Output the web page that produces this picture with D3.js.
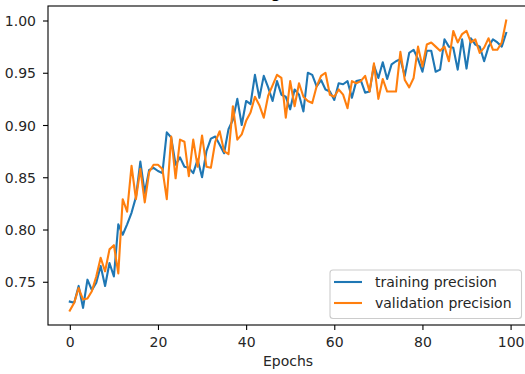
<!DOCTYPE html>
<html>
<head>
<meta charset="utf-8">
<script src="https://d3js.org/d3.v7.min.js"></script>
<style>
  body { margin: 0; background: white; }
  text { font-family: "DejaVu Sans", sans-serif; }
</style>
</head>
<body>
<div id="chart"></div>
<script>
//Data

var epochs = d3.range(100);

var training = [
  0.731, 0.730, 0.746, 0.725, 0.752, 0.742, 0.749, 0.765, 0.746, 0.768,
  0.755, 0.805, 0.795, 0.805, 0.816, 0.831, 0.865, 0.835, 0.857, 0.859,
  0.856, 0.854, 0.893, 0.888, 0.862, 0.869, 0.860, 0.859, 0.854, 0.867,
  0.850, 0.875, 0.887, 0.889, 0.881, 0.873, 0.896, 0.905, 0.925, 0.900,
  0.923, 0.920, 0.948, 0.926, 0.947, 0.936, 0.923, 0.942, 0.929, 0.927,
  0.915, 0.934, 0.929, 0.913, 0.950, 0.948, 0.937, 0.943, 0.934, 0.932,
  0.924, 0.940, 0.939, 0.942, 0.926, 0.942, 0.943, 0.931, 0.932, 0.957,
  0.945, 0.960, 0.944, 0.958, 0.961, 0.963, 0.947, 0.969, 0.972, 0.963,
  0.951, 0.971, 0.971, 0.951, 0.953, 0.982, 0.975, 0.974, 0.953, 0.982,
  0.954, 0.983, 0.977, 0.975, 0.961, 0.975, 0.982, 0.979, 0.975, 0.988
];

var validation = [
  0.7225, 0.730, 0.744, 0.733, 0.734, 0.741, 0.755, 0.773, 0.760, 0.781,
  0.785, 0.758, 0.829, 0.817, 0.861, 0.829, 0.858, 0.826, 0.855, 0.862,
  0.862, 0.858, 0.829, 0.889, 0.849, 0.886, 0.884, 0.851, 0.886, 0.860,
  0.890, 0.860, 0.859, 0.884, 0.894, 0.875, 0.872, 0.918, 0.886, 0.891,
  0.904, 0.912, 0.927, 0.919, 0.907, 0.928, 0.938, 0.948, 0.945, 0.907,
  0.942, 0.918, 0.940, 0.927, 0.923, 0.921, 0.937, 0.947, 0.950, 0.929,
  0.927, 0.934, 0.929, 0.916, 0.942, 0.940, 0.942, 0.947, 0.932, 0.959,
  0.925, 0.944, 0.932, 0.932, 0.932, 0.970, 0.943, 0.936, 0.945, 0.975,
  0.956, 0.977, 0.979, 0.975, 0.971, 0.975, 0.961, 0.990, 0.979, 0.987,
  0.990, 0.979, 0.982, 0.969, 0.974, 0.983, 0.972, 0.972, 0.979, 1.000
];

var xTicks = [0, 20, 40, 60, 80, 100];
var yTicks = [0.75, 0.80, 0.85, 0.90, 0.95, 1.00];
var seriesNames = ["training precision", "validation precision"];
var colors = ["#1f77b4", "#ff7f0e"];

//Base svg

var width = 525, height = 374;
var plotLeft = 48, plotRight = 528, plotTop = 6, plotBottom = 325;

var svg = d3.select("#chart")
            .append("svg")
            .attr("width", width)
            .attr("height", height)
            .style("background-color", "white");

//Scales (matplotlib style 5% margins)

var xMin = d3.min(epochs), xMax = d3.max(epochs);
var xPad = (xMax - xMin) * 0.05;
var x = d3.scaleLinear()
          .domain([xMin - xPad, xMax + xPad])
          .range([plotLeft, plotRight]);

var all = training.concat(validation);
var yMin = d3.min(all), yMax = d3.max(all);
var yPad = (yMax - yMin) * 0.05;
var y = d3.scaleLinear()
          .domain([yMin - yPad, yMax + yPad])
          .range([plotBottom, plotTop]);

//Title (mostly cut off at the top)

svg.append("text")
   .attr("x", (plotLeft + plotRight) / 2)
   .attr("y", -2)
   .attr("text-anchor", "middle")
   .attr("font-size", 16.7)
   .attr("fill", "black")
   .text("Training Precision");

//Lines

var line = d3.line()
             .x(function(d, i) { return x(epochs[i]); })
             .y(function(d) { return y(d); });

[training, validation].forEach(function(series, k) {
  svg.append("path")
     .datum(series)
     .attr("d", line)
     .attr("fill", "none")
     .attr("stroke", colors[k])
     .attr("stroke-width", 2.1)
     .attr("stroke-linejoin", "round")
     .attr("stroke-linecap", "square");
});

//Frame

svg.append("rect")
   .attr("x", plotLeft)
   .attr("y", plotTop)
   .attr("width", plotRight - plotLeft)
   .attr("height", plotBottom - plotTop)
   .attr("fill", "none")
   .attr("stroke", "black")
   .attr("stroke-width", 1.1);

//Axes

var xAxis = svg.append("g")
               .attr("transform", "translate(0," + plotBottom + ")")
               .call(d3.axisBottom(x).tickValues(xTicks).tickSize(5).tickPadding(5)
                       .tickFormat(d3.format("d")));

var yAxis = svg.append("g")
               .attr("transform", "translate(" + plotLeft + ",0)")
               .call(d3.axisLeft(y).tickValues(yTicks).tickSize(5).tickPadding(7)
                       .tickFormat(d3.format(".2f")));

[xAxis, yAxis].forEach(function(ax) {
  ax.select(".domain").remove();
  ax.selectAll(".tick line").attr("stroke", "black").attr("stroke-width", 1.1);
  ax.selectAll(".tick text")
    .attr("font-family", "DejaVu Sans")
    .attr("font-size", 14)
    .attr("fill", "#262626");
});

xAxis.selectAll(".tick text").attr("dy", null).attr("y", 21.5);
yAxis.selectAll(".tick text").attr("dy", null).attr("y", 5);

//Axis label

svg.append("text")
   .attr("x", (plotLeft + plotRight) / 2)
   .attr("y", 366)
   .attr("text-anchor", "middle")
   .attr("font-size", 14)
   .attr("fill", "#262626")
   .text("Epochs");

//Legend

var legend = svg.append("g");

legend.append("rect")
      .attr("x", 330)
      .attr("y", 270)
      .attr("width", 191.5)
      .attr("height", 48.5)
      .attr("rx", 3)
      .attr("fill", "white")
      .attr("fill-opacity", 0.8)
      .attr("stroke", "#cccccc")
      .attr("stroke-width", 1.1);

seriesNames.forEach(function(name, k) {
  var ly = 282 + k * 21;
  legend.append("line")
        .attr("x1", 334)
        .attr("x2", 362)
        .attr("y1", ly)
        .attr("y2", ly)
        .attr("stroke", colors[k])
        .attr("stroke-width", 2.1);
  legend.append("text")
        .attr("x", 375)
        .attr("y", ly + 5)
        .attr("font-size", 14)
        .attr("fill", "#262626")
        .text(name);
});
</script>
</body>
</html>
